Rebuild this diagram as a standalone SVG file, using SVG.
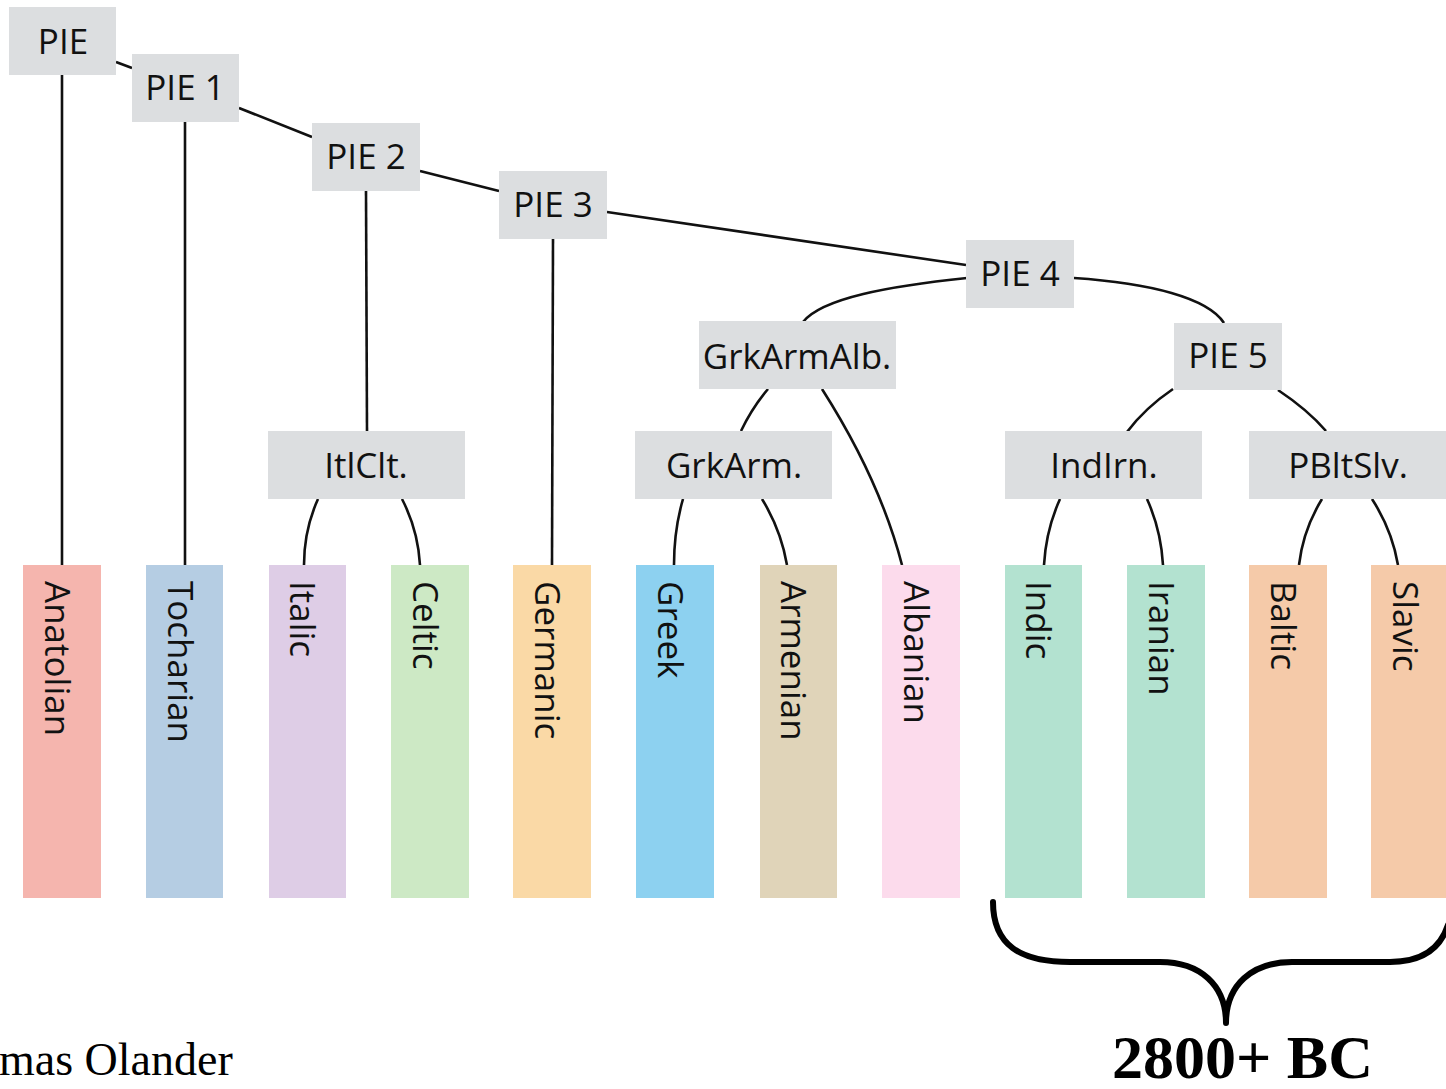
<svg xmlns="http://www.w3.org/2000/svg" width="1446" height="1089" viewBox="0 0 1446 1089">
<style>
.n{fill:#dcdee0}
.t{font-family:"Open Sans","Noto Sans",sans-serif;font-size:35px;fill:#111;text-anchor:middle}
.l{font-family:"Open Sans","Noto Sans",sans-serif;font-size:35px;fill:#111}
.c{fill:none;stroke:#111;stroke-width:2.6}
.b{fill:none;stroke:#000;stroke-width:6;stroke-linecap:round;stroke-linejoin:round}
.s{font-family:"Liberation Serif",serif;fill:#000}
</style>
<rect width="1446" height="1089" fill="#fff"/>
<g id="connectors">
<path class="c" d="M116,62 L132,68"/>
<path class="c" d="M239,108 L312,137"/>
<path class="c" d="M420,171 L499,191"/>
<path class="c" d="M607,212 L966,265"/>
<path class="c" d="M967,278 C890,286 822,298 803,322"/>
<path class="c" d="M1074,278 C1150,283 1208,298 1224,323"/>
<path class="c" d="M62,75 L62,565"/>
<path class="c" d="M185,122 L185,565"/>
<path class="c" d="M366,191 L367,431"/>
<path class="c" d="M553,239 L552,565"/>
<path class="c" d="M768,389 Q752,408 741,431"/>
<path class="c" d="M822,389 Q880,480 902,565"/>
<path class="c" d="M1173,389 Q1145,408 1127,432"/>
<path class="c" d="M1278,390 Q1308,410 1326,431"/>
<path class="c" d="M318,499 Q304,530 304,565"/>
<path class="c" d="M402,499 Q418,530 420,565"/>
<path class="c" d="M683,499 Q674,530 674,565"/>
<path class="c" d="M762,499 Q781,530 787,565"/>
<path class="c" d="M1060,499 Q1046,530 1044,565"/>
<path class="c" d="M1147,499 Q1161,530 1163,565"/>
<path class="c" d="M1322,499 Q1303,530 1299,565"/>
<path class="c" d="M1372,499 Q1392,530 1398,565"/>
</g>
<g id="PIE"><rect class="n" x="9" y="7" width="107" height="68"/><text class="t" x="63" y="54">PIE</text></g>
<g id="PIE1"><rect class="n" x="132" y="54" width="107" height="68"/><text class="t" x="185" y="100">PIE 1</text></g>
<g id="PIE2"><rect class="n" x="312" y="123" width="108" height="68"/><text class="t" x="366" y="169">PIE 2</text></g>
<g id="PIE3"><rect class="n" x="499" y="171" width="108" height="68"/><text class="t" x="553" y="217">PIE 3</text></g>
<g id="PIE4"><rect class="n" x="966" y="240" width="108" height="68"/><text class="t" x="1020" y="286">PIE 4</text></g>
<g id="GrkArmAlb"><rect class="n" x="699" y="321" width="197" height="68"/><text class="t" x="797" y="369">GrkArmAlb.</text></g>
<g id="PIE5"><rect class="n" x="1174" y="323" width="108" height="67"/><text class="t" x="1228" y="368">PIE 5</text></g>
<g id="ItlClt"><rect class="n" x="268" y="431" width="197" height="68"/><text class="t" x="366" y="478">ItlClt.</text></g>
<g id="GrkArm"><rect class="n" x="635" y="431" width="197" height="68"/><text class="t" x="734" y="478">GrkArm.</text></g>
<g id="IndIrn"><rect class="n" x="1005" y="431" width="197" height="68"/><text class="t" x="1104" y="478">IndIrn.</text></g>
<g id="PBltSlv"><rect class="n" x="1249" y="431" width="197" height="68"/><text class="t" x="1348" y="478">PBltSlv.</text></g>
<g id="Anatolian"><rect x="23" y="565" width="78" height="333" fill="#f5b5ae"/><text class="l" transform="translate(45,581) rotate(90)">Anatolian</text></g>
<g id="Tocharian"><rect x="146" y="565" width="77" height="333" fill="#b5cde3"/><text class="l" transform="translate(168,581) rotate(90)">Tocharian</text></g>
<g id="Italic"><rect x="269" y="565" width="77" height="333" fill="#decde6"/><text class="l" transform="translate(290,581) rotate(90)">Italic</text></g>
<g id="Celtic"><rect x="391" y="565" width="78" height="333" fill="#cde9c5"/><text class="l" transform="translate(413,581) rotate(90)">Celtic</text></g>
<g id="Germanic"><rect x="513" y="565" width="78" height="333" fill="#fad9a6"/><text class="l" transform="translate(535,581) rotate(90)">Germanic</text></g>
<g id="Greek"><rect x="636" y="565" width="78" height="333" fill="#8dd1f0"/><text class="l" transform="translate(658,581) rotate(90)">Greek</text></g>
<g id="Armenian"><rect x="760" y="565" width="77" height="333" fill="#e0d4b9"/><text class="l" transform="translate(781,581) rotate(90)">Armenian</text></g>
<g id="Albanian"><rect x="882" y="565" width="78" height="333" fill="#fcdbec"/><text class="l" transform="translate(904,581) rotate(90)">Albanian</text></g>
<g id="Indic"><rect x="1005" y="565" width="77" height="333" fill="#b3e2d0"/><text class="l" transform="translate(1026,581) rotate(90)">Indic</text></g>
<g id="Iranian"><rect x="1127" y="565" width="78" height="333" fill="#b3e2d0"/><text class="l" transform="translate(1149,581) rotate(90)">Iranian</text></g>
<g id="Baltic"><rect x="1249" y="565" width="78" height="333" fill="#f5caa9"/><text class="l" transform="translate(1271,581) rotate(90)">Baltic</text></g>
<g id="Slavic"><rect x="1371" y="565" width="78" height="333" fill="#f5caa9"/><text class="l" transform="translate(1393,581) rotate(90)">Slavic</text></g>
<path class="b" d="M993,902 C993,945 1020,962 1070,962 L1160,962 C1200,962 1226,985 1226,1023 C1226,985 1252,962 1292,962 L1390,962 C1420,962 1440,950 1448,925"/>
<text class="s" x="1112" y="1078" font-size="62" font-weight="bold">2800+ BC</text>
<text class="s" x="-1" y="1075" font-size="46">mas Olander</text>
</svg>
